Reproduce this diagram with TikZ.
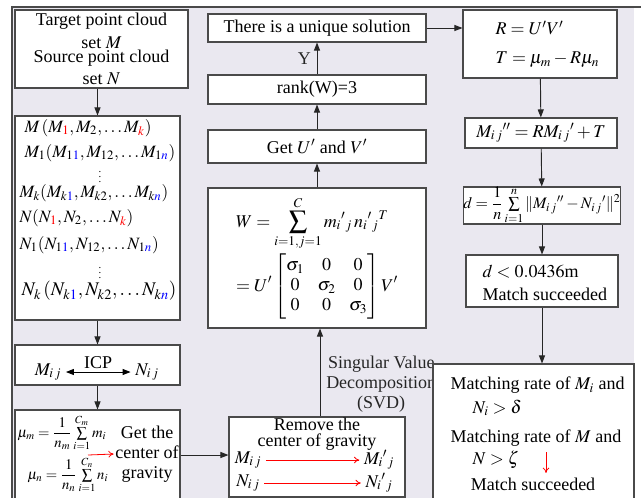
\documentclass[tikz,border=0pt]{standalone}
\usepackage{amsmath}
\usepackage{mathptmx}
\usepackage{fontspec}
\setmainfont{Liberation Serif}
\newfontfamily\tnr{Liberation Serif}
\usepackage{xcolor}
\usepackage{tikz}
\usetikzlibrary{arrows.meta,positioning,calc}

\definecolor{framebg}{HTML}{EAE8F0}
\definecolor{framegray}{HTML}{4A4A4A}

\begin{document}
\begin{tikzpicture}[x=0.75pt,y=-0.75pt,
  every node/.style={font=\tnr\fontsize{13.5}{15}\selectfont},
  box/.style={draw=framegray,fill=white,line width=0.8pt,inner sep=0pt},
  flow/.style={-{Triangle[length=6pt,width=4.5pt]},line width=0.7pt,black!85},
  redarr/.style={-{To[length=4pt,width=5pt]},red,line width=0.6pt},
  big/.style={font=\tnr\fontsize{13}{15}\selectfont,inner sep=1pt},
  small/.style={font=\tnr\fontsize{11}{13}\selectfont},
  vdot/.style={font=\tnr\fontsize{8}{9}\selectfont,inner sep=0pt}]
  \useasboundingbox (0,0) rectangle (641,497);
  \clip (0,0) rectangle (641,497);
  \fill[framebg] (12,7) rectangle (634,510);
  \draw[framegray,line width=1.3pt] (12,510) -- (12,7) -- (641,7);

  % left column
  \node[box,minimum width=129.75pt,minimum height=58.5pt,align=center] (clouds) at (101.5,49)
    {Target point cloud\\[2pt]set $M$\\[-4pt]Source point cloud\\[1.5pt]set $N$};
  \node[box,minimum width=123.75pt,minimum height=153pt] (subsets) at (97.5,218) {};
  \node[big,anchor=west] (m0) at (23,128) {$M\,(M_{\color{red}1},M_2,\ldots M_{\color{red}k})$};
  \node[big,anchor=west] (m1) at (23,153) {$M_1(M_{1{\color{blue}1}},M_{12},\ldots M_{1{\color{blue}n}})$};
  \node[vdot] (mdots) at (100,173) {$\vdots$};
  \node[big,anchor=west] (mk) at (18,193) {$M_k(M_{k{\color{blue}1}},M_{k2},\ldots M_{k{\color{blue}n}})$};
  \node[big,anchor=west] (n0) at (18,218) {$N(N_{\color{red}1},N_2,\ldots N_{\color{red}k})$};
  \node[big,anchor=west] (n1) at (18,245) {$N_1(N_{1{\color{blue}1}},N_{12},\ldots N_{1{\color{blue}n}})$};
  \node[vdot] (ndots) at (100,269) {$\vdots$};
  \node[font=\tnr\fontsize{14.5}{16}\selectfont,anchor=west,inner sep=1pt] (nk) at (20,291) {$N_k\,(N_{k{\color{blue}1}},N_{k2},\ldots N_{k{\color{blue}n}})$};

  \node[box,minimum width=123.75pt,minimum height=30pt] (icp) at (97.5,365) {};
  \node (mij) at (48,372) {$M_{i\,j}$};
  \node (nij) at (147,372) {$N_{i\,j}$};
  \draw[{Triangle[length=6pt,width=4.5pt]}-{Triangle[length=6pt,width=4.5pt]},line width=0.7pt]
    (mij) -- (nij) node[midway,above=-1pt] (icplab) {ICP};

  \node[box,minimum width=123.75pt,minimum height=67.5pt] (centre) at (97.5,455) {};
  \node[small,anchor=west,inner sep=1pt] (mum) at (16,433) {$\mu_m=\dfrac{1}{n_m}\sum\limits_{i=1}^{C_m}m_i$};
  \node[small,anchor=west,inner sep=1pt] (mun) at (26,475) {$\mu_n=\dfrac{1}{n_n}\sum\limits_{i=1}^{C_n}n_i$};
  \node[align=center,inner sep=1pt] (gettxt) at (147,454) {Get the\\center of\\gravity};
  \coordinate (ra) at (88,455);
  \draw[redarr] (ra) -- (gettxt.west);

  % middle column
  \node[box,minimum width=132pt,minimum height=60pt] (remove) at (317,457) {};
  \node[align=center] (remtxt) at (317,434) {Remove the\\[-3pt]center of gravity};
  \node (rm1) at (248,460) {$M_{i\,j}$};
  \node (rm2) at (379,460) {$M_i{}'{}_j$};
  \node (rn1) at (248,483) {$N_{i\,j}$};
  \node (rn2) at (379,483) {$N_i{}'{}_j$};
  \draw[redarr] (rm1) -- (rm2);
  \draw[redarr] (rn1) -- (rn2);

  \node[box,minimum width=163.5pt,minimum height=105pt,align=left] (wmat) at (317,258)
    {$\displaystyle W=\sum_{i=1,j=1}^{C} m_i{}'{}_j\,n_i{}'{}_j{}^{T}$\\[2pt]
     $\displaystyle =U'\begin{bmatrix}\sigma_1&0&0\\0&\sigma_2&0\\0&0&\sigma_3\end{bmatrix}V'$};
  \node[box,minimum width=163.5pt,minimum height=24.75pt] (getuv) at (317,146.5) {Get $U'$ and $V'$};
  \node[box,minimum width=163.5pt,minimum height=21.75pt] (rank) at (317,89.5) {rank(W)=3};
  \node[box,minimum width=163.5pt,minimum height=21pt] (unique) at (317,28) {There is a unique solution};

  \draw[flow] (remove.north -| 320,0) -- (wmat.south -| 320,0)
    node[pos=0.37,right=1pt,align=center] (svd) {Singular Value\\Decomposition\\(SVD)};
  \draw[flow] (wmat) -- (getuv);
  \draw[flow] (getuv) -- (rank);
  \draw[flow] (rank) -- (unique) node[midway,left=1pt] (yes) {Y};

  % right column
  \node[box,minimum width=115.5pt,minimum height=51pt] (rt) at (540,44) {};
  \node[anchor=west] (rr) at (491,28) {$R=U'V'$};
  \node[anchor=west] (tt) at (491,60) {$T=\mu_m-R\mu_n$};
  \node[box,minimum width=114pt,minimum height=22.5pt] (transf) at (541,133) {$M_{i\,j}{}''=RM_{i\,j}{}'+T$};
  \node[box,minimum width=114pt,minimum height=27.75pt,font=\tnr\fontsize{12}{14}\selectfont] (dist) at (542,205.5)
    {$d=\dfrac{1}{n}\sum\limits_{i=1}^{n}\|M_{i\,j}{}''-N_{i\,j}{}'\|^2$};
  \node[box,minimum width=114pt,minimum height=39pt] (thresh) at (542,281) {};
  \node[anchor=west,align=left] (thtxt) at (478,283) {$d<0.0436$m\\[2pt]Match succeeded};
  \node[box,minimum width=150.75pt,minimum height=102pt] (rate) at (533.5,432) {};
  \node[anchor=west] (r1) at (446,385) {Matching rate of $M_i$ and};
  \node[anchor=west] (r2) at (468,408) {$N_i>\delta$};
  \node[anchor=west] (r3) at (446,438) {Matching rate of $M$ and};
  \node[anchor=west] (r4) at (468,460) {$N>\zeta$};
  \node (r5) at (533,484) {Match succeeded};
  \coordinate (rd) at (546,452);
  \draw[redarr] (rd) -- (rd |- r5.north);

  \draw[flow] (clouds.south -| subsets) -- (subsets);
  \draw[flow] (subsets) -- (icp);
  \draw[flow] (icp) -- (centre);
  \draw[flow] (centre.east) -- (centre.east -| remove.west);
  \draw[flow] (unique.east) -- (unique.east -| rt.west);
  \draw[flow] (rt) -- (transf);
  \draw[flow] (transf) -- (dist);
  \draw[flow] (dist) -- (thresh);
  \draw[flow] (thresh.south) -- (thresh.south |- rate.north);
\end{tikzpicture}
\end{document}
